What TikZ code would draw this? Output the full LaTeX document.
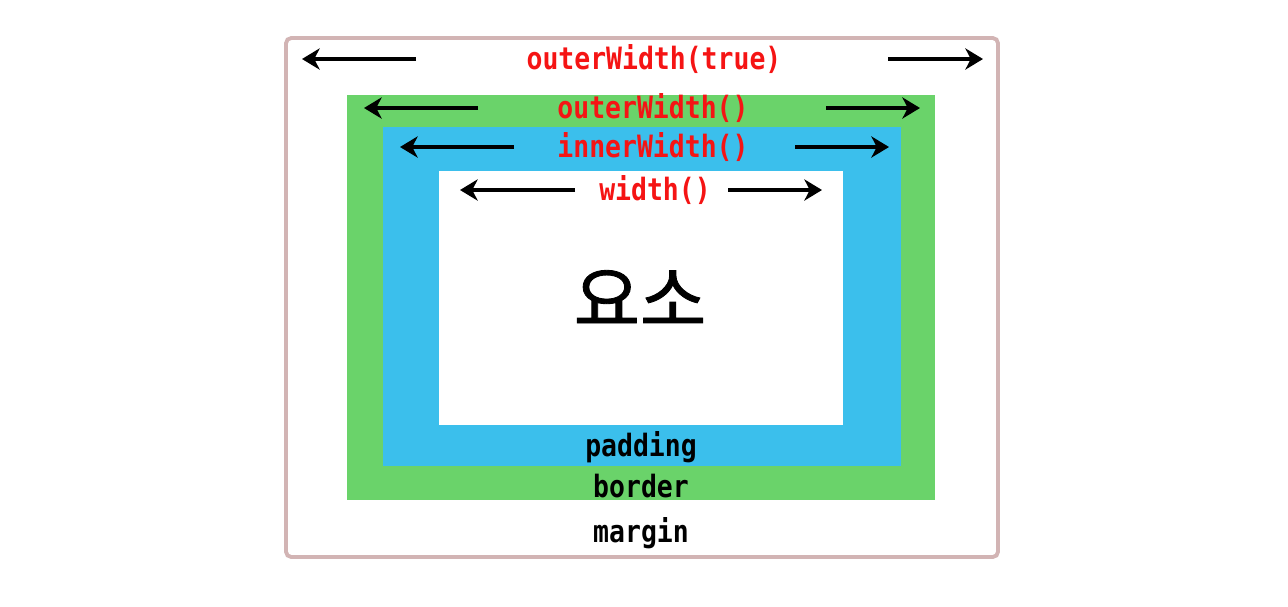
\documentclass[tikz,border=0pt]{standalone}
\usepackage{fontspec}
\setmonofont{DejaVu Sans Mono}
\newfontfamily\labelfont{DejaVu Sans Mono}[FakeStretch=0.86]
\newfontfamily\krfont{Noto Sans CJK KR}[FakeBold=1.2]
\usepackage{tikz}
\usetikzlibrary{arrows.meta, positioning}
\definecolor{marginline}{RGB}{210,180,180}
\definecolor{bordergreen}{RGB}{106,211,106}
\definecolor{paddingblue}{RGB}{59,191,236}
\definecolor{labelred}{RGB}{245,20,20}
\tikzstyle{widthlabel} = [text=labelred, 
font=\labelfont\bfseries\fontsize{17.5}{20}\selectfont, 
inner sep=0pt]
\tikzstyle{boxlabel} = [text=black, 
font=\labelfont\bfseries\fontsize{17.5}{20}\selectfont, 
inner sep=0pt]
\tikzstyle{arrow} = [line width=2pt,-{Stealth[length=10pt,width=12pt,inset=3pt]}]

\begin{document}
\begin{tikzpicture}[x=0.02cm, y=-0.02cm]
\useasboundingbox (0,0) rectangle (1288,606);
% boxes
\draw [marginline, line width=2.2pt, rounded corners=3pt] (286,38) rectangle (998,557);
\fill [bordergreen] (347,95) rectangle (935,500);
\fill [paddingblue] (383,127) rectangle (901,466);
\fill [white] (439,171) rectangle (843,425);

\node (outertrue) [widthlabel] at (654,59) {outerWidth(true)};
\node (outer) [widthlabel] at (653,108) {outerWidth()};
\node (inner) [widthlabel] at (653,147) {innerWidth()};
\node (width) [widthlabel] at (655,190) {width()};
\node (elem) at (640,298) {\krfont\fontsize{41}{44}\selectfont 요소};
\node (padding) [boxlabel] at (641,447) {padding};
\node (border) [boxlabel] at (641,486) {border};
\node (margin) [boxlabel] at (641,533) {margin};

% arrow ends
\coordinate (ot-l1) at (416,59);  \coordinate (ot-l2) at (302,59);
\coordinate (ot-r1) at (888,59);  \coordinate (ot-r2) at (983,59);
\coordinate (o-l1) at (478,108);  \coordinate (o-l2) at (364,108);
\coordinate (o-r1) at (826,108);  \coordinate (o-r2) at (920,108);
\coordinate (i-l1) at (514,147);  \coordinate (i-l2) at (400,147);
\coordinate (i-r1) at (795,147);  \coordinate (i-r2) at (889,147);
\coordinate (w-l1) at (575,190);  \coordinate (w-l2) at (460,190);
\coordinate (w-r1) at (728,190);  \coordinate (w-r2) at (822,190);

\draw [arrow] (ot-l1) -- (ot-l2);
\draw [arrow] (ot-r1) -- (ot-r2);
\draw [arrow] (o-l1) -- (o-l2);
\draw [arrow] (o-r1) -- (o-r2);
\draw [arrow] (i-l1) -- (i-l2);
\draw [arrow] (i-r1) -- (i-r2);
\draw [arrow] (w-l1) -- (w-l2);
\draw [arrow] (w-r1) -- (w-r2);
\end{tikzpicture}
\end{document}
